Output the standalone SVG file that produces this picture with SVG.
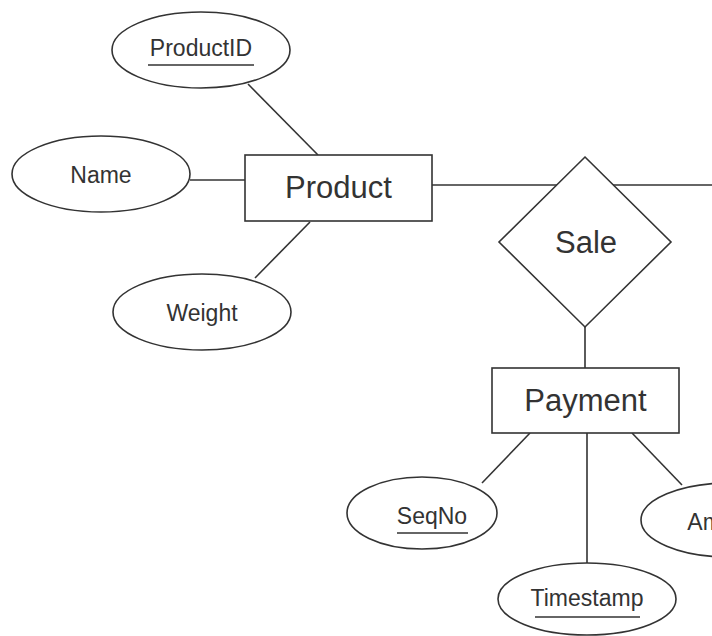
<svg xmlns="http://www.w3.org/2000/svg" width="712" height="636" viewBox="0 0 712 636">
<style>
.shape{fill:#fff;stroke:#333;stroke-width:1.6}
.conn line{stroke:#333;stroke-width:1.6}
.ul{stroke:#333;stroke-width:1.6}
.ent{font-family:"Liberation Sans",Arial,sans-serif;font-size:31px;fill:#333;text-anchor:middle}
.att{font-family:"Liberation Sans",Arial,sans-serif;font-size:23px;fill:#333;text-anchor:middle}
</style>
<rect width="712" height="636" fill="#fff"/>
<g id="connectors" class="conn">
<line x1="248" y1="84" x2="318" y2="155"/>
<line x1="190" y1="180" x2="245" y2="180"/>
<line x1="310" y1="222" x2="255" y2="278"/>
<line x1="432" y1="185" x2="557" y2="185"/>
<line x1="613" y1="185" x2="712" y2="185"/>
<line x1="585" y1="327" x2="585" y2="368"/>
<line x1="530" y1="433" x2="482" y2="483"/>
<line x1="587" y1="433" x2="587" y2="563"/>
<line x1="632" y1="433" x2="682" y2="485"/>
</g>
<g id="ProductID">
<ellipse class="shape" cx="201" cy="50" rx="89" ry="38"/>
<text class="att" x="201" y="56">ProductID</text>
<line class="ul" x1="148" y1="65" x2="254" y2="65"/>
</g>
<g id="Name">
<ellipse class="shape" cx="101" cy="174" rx="89" ry="38"/>
<text class="att" x="101" y="183">Name</text>
</g>
<g id="Weight">
<ellipse class="shape" cx="202" cy="312" rx="89" ry="38"/>
<text class="att" x="202" y="321">Weight</text>
</g>
<g id="Product">
<rect class="shape" x="245" y="155" width="187" height="66"/>
<text class="ent" x="338.5" y="198">Product</text>
</g>
<g id="Sale">
<polygon class="shape" points="585,157 671,242 585,327 499,242"/>
<text class="ent" x="586" y="253">Sale</text>
</g>
<g id="Payment">
<rect class="shape" x="492" y="368" width="187" height="65"/>
<text class="ent" x="585.5" y="411">Payment</text>
</g>
<g id="SeqNo">
<ellipse class="shape" cx="422" cy="513" rx="75" ry="36"/>
<text class="att" x="432" y="524">SeqNo</text>
<line class="ul" x1="397" y1="533" x2="468" y2="533"/>
</g>
<g id="Timestamp">
<ellipse class="shape" cx="587" cy="599" rx="89" ry="36"/>
<text class="att" x="587" y="606">Timestamp</text>
<line class="ul" x1="535" y1="617" x2="640" y2="617"/>
</g>
<g id="Amount">
<ellipse class="shape" cx="729" cy="520" rx="88" ry="37"/>
<text class="att" x="727" y="530">Amount</text>
</g>
</svg>
